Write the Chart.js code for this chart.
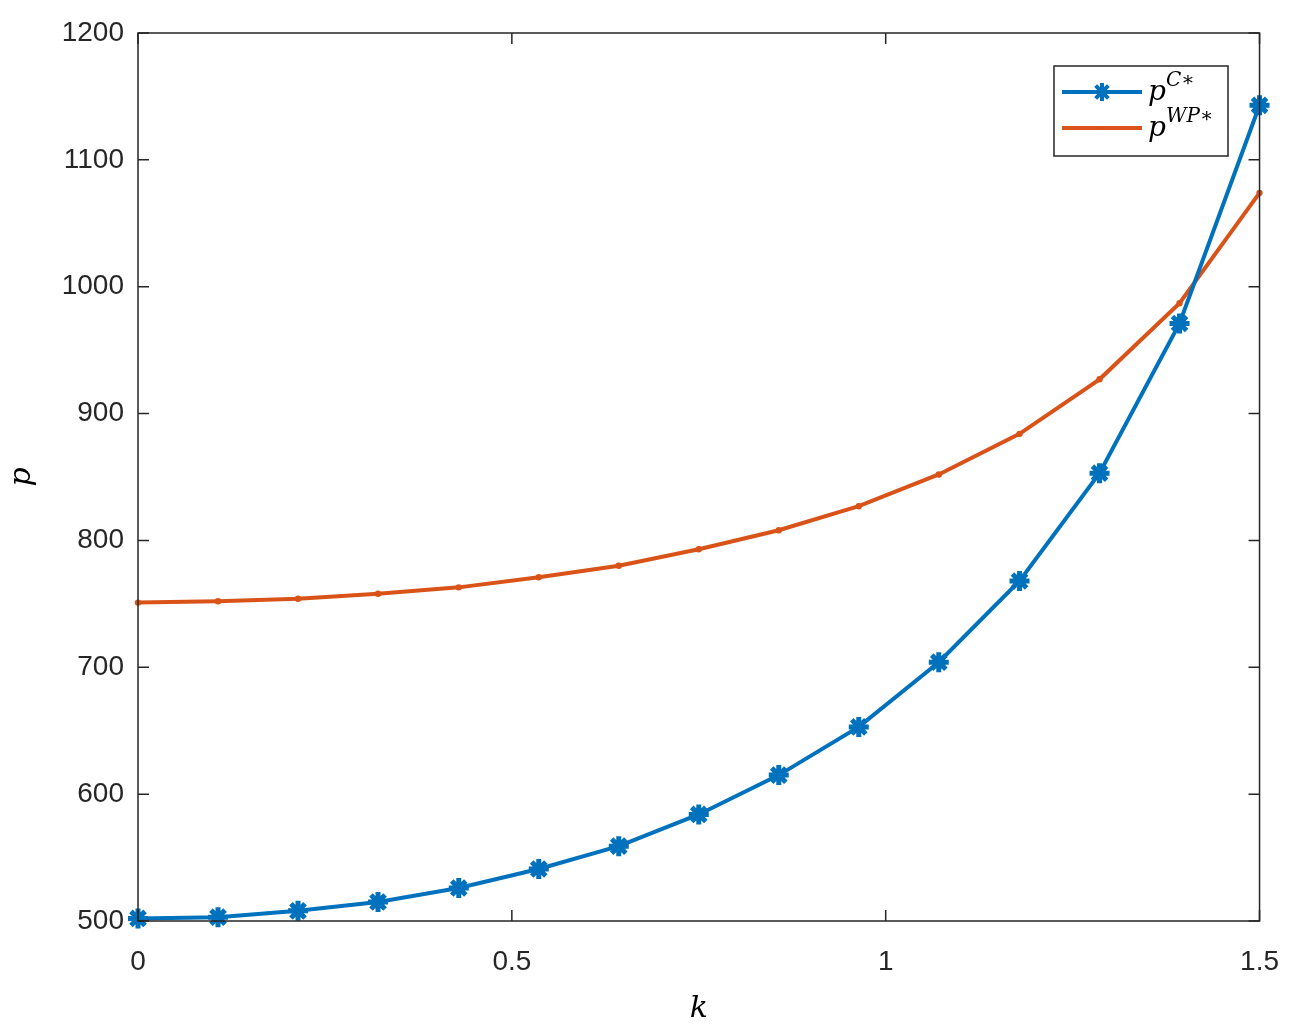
<!DOCTYPE html>
<html>
<head>
<meta charset="utf-8">
<script src="https://cdn.jsdelivr.net/npm/chart.js@4"></script>
<style>
  html, body { margin: 0; padding: 0; background: #fff; }
  #wrap { width: 1303px; height: 1031px; }
</style>
</head>
<body>
<div id="wrap"><canvas id="chart"></canvas></div>
<script>
// k values (15 points from 0 to 1.5)
const kValues = [0, 0.107, 0.214, 0.321, 0.429, 0.536, 0.643, 0.75, 0.857, 0.964, 1.071, 1.179, 1.286, 1.393, 1.5];
const pC = [502, 503, 508, 515, 526, 541, 559, 584, 615, 653, 704, 768, 853, 971, 1143];
const pWP = [751, 752, 754, 758, 763, 771, 780, 793, 808, 827, 852, 884, 927, 987, 1074];
const xTicks = [0, 0.5, 1, 1.5];

const blue = '#0072BD';
const orange = '#D95319';

function toPoints(ys) {
  return kValues.map((k, i) => ({ x: k, y: ys[i] }));
}

// frame, inward ticks and legend with superscripts
const framePlugin = {
  id: 'frame',
  afterDraw(chart) {
    const { ctx, chartArea: a, scales } = chart;
    ctx.save();
    ctx.strokeStyle = '#262626';
    ctx.lineWidth = 1.5;
    ctx.strokeRect(a.left, a.top, a.right - a.left, a.bottom - a.top);
    ctx.beginPath();
    scales.y.ticks.forEach((t) => {
      const y = scales.y.getPixelForValue(t.value);
      ctx.moveTo(a.left, y); ctx.lineTo(a.left + 11, y);
      ctx.moveTo(a.right, y); ctx.lineTo(a.right - 11, y);
    });
    scales.x.ticks.forEach((t) => {
      const x = scales.x.getPixelForValue(t.value);
      ctx.moveTo(x, a.bottom); ctx.lineTo(x, a.bottom - 11);
      ctx.moveTo(x, a.top); ctx.lineTo(x, a.top + 11);
    });
    ctx.stroke();

    // legend box
    const lx = 1054, ly = 66, lw = 174, lh = 90;
    ctx.fillStyle = '#fff';
    ctx.fillRect(lx, ly, lw, lh);
    ctx.strokeStyle = '#262626';
    ctx.lineWidth = 1.5;
    ctx.strokeRect(lx, ly, lw, lh);
    const rows = [
      { color: blue, sup: 'C∗', y: ly + 26, star: true },
      { color: orange, sup: 'WP∗', y: ly + 62, star: false }
    ];
    rows.forEach((r) => {
      ctx.strokeStyle = r.color;
      ctx.lineWidth = 4;
      ctx.beginPath();
      ctx.moveTo(lx + 8, r.y); ctx.lineTo(lx + 88, r.y);
      ctx.stroke();
      if (r.star) {
        ctx.lineWidth = 4;
        ctx.beginPath();
        for (let i = 0; i < 4; i++) {
          const ang = i * Math.PI / 4;
          ctx.moveTo(lx + 48 - 9 * Math.cos(ang), r.y - 9 * Math.sin(ang));
          ctx.lineTo(lx + 48 + 9 * Math.cos(ang), r.y + 9 * Math.sin(ang));
        }
        ctx.stroke();
      } else {
        ctx.fillStyle = r.color;
        ctx.beginPath(); ctx.arc(lx + 48, r.y, 2, 0, Math.PI * 2); ctx.fill();
      }
      ctx.fillStyle = '#000';
      ctx.font = 'italic 28px "DejaVu Serif", serif';
      ctx.textBaseline = 'alphabetic';
      ctx.fillText('p', lx + 94, r.y + 8);
      ctx.font = 'italic 20px "DejaVu Serif", serif';
      ctx.fillText(r.sup, lx + 112, r.y - 6);
    });
    ctx.restore();
  }
};

new Chart(document.getElementById('chart'), {
  type: 'line',
  data: {
    datasets: [
      {
        label: 'pC*',
        data: toPoints(pC),
        borderColor: blue,
        backgroundColor: blue,
        borderWidth: 4,
        pointStyle: 'star',
        pointRadius: 10,
        pointBorderWidth: 5,
        tension: 0,
        clip: false
      },
      {
        label: 'pWP*',
        data: toPoints(pWP),
        borderColor: orange,
        backgroundColor: orange,
        borderWidth: 4,
        pointRadius: 1.2,
        tension: 0,
        clip: false
      }
    ]
  },
  options: {
    responsive: true,
    maintainAspectRatio: false,
    animation: false,
    layout: { padding: { top: 33, right: 39, left: 0, bottom: 0 } },
    plugins: { legend: { display: false }, tooltip: { enabled: false } },
    scales: {
      x: {
        type: 'linear',
        min: 0, max: 1.5,
        afterBuildTicks: (s) => { s.ticks = xTicks.map((v) => ({ value: v })); },
        afterFit: (s) => { s.height = 110; },
        grid: { display: false, drawTicks: false },
        border: { display: false },
        ticks: { color: '#262626', font: { family: 'Liberation Sans', size: 28 }, padding: 24, maxRotation: 0,
          callback: (v) => String(v) },
        title: { display: true, text: 'k', color: '#000', font: { family: 'DejaVu Serif', size: 30, style: 'italic' }, padding: { top: 0 } }
      },
      y: {
        min: 500, max: 1200,
        afterFit: (s) => { s.width = 138; },
        grid: { display: false, drawTicks: false },
        border: { display: false },
        ticks: { stepSize: 100, color: '#262626', font: { family: 'Liberation Sans', size: 28 }, padding: 14,
          callback: (v) => String(v) },
        title: { display: true, text: 'p', color: '#000', font: { family: 'DejaVu Serif', size: 30, style: 'italic' }, padding: { bottom: 4 } }
      }
    }
  },
  plugins: [framePlugin]
});
</script>
</body>
</html>
